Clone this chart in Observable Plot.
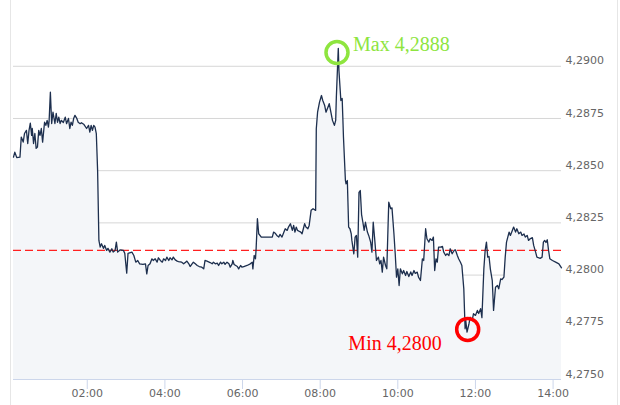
<!DOCTYPE html>
<html>
<head>
<meta charset="utf-8">
<script src="https://cdn.jsdelivr.net/npm/d3@7"></script>
<script src="https://cdn.jsdelivr.net/npm/@observablehq/plot@0.6"></script>
<style>
  html, body { margin: 0; padding: 0; background: #fff; }
  #wrap { position: relative; width: 620px; height: 405px; overflow: hidden; }
  .border { position: absolute; top: 0; width: 1px; height: 405px; background: #e6e6e6; }
  svg { display: block; }
</style>
</head>
<body>
<div id="wrap">
  <div class="border" style="left:10px"></div>
  <div class="border" style="left:617px"></div>
</div>
<script>
// Time of each quote, in minutes after midnight
const minutes = [
  6,8,11,16,18,21,23,26,28,30,
  32,34,35,37,39,41,43,45,47,49,
  51,54,56,58,60,61,63,65,67,70,
  72,74,76,78,80,83,86,88,91,93,
  95,97,99,101,104,106,109,111,115,119,
  122,124,126,128,130,132,134,136,138,140,
  142,145,147,150,152,155,158,160,163,165,
  167,171,176,178,181,183,189,192,195,198,
  201,206,210,212,214,217,220,222,225,228,
  230,233,236,238,241,243,246,248,251,253,
  256,259,261,266,269,272,274,277,279,282,
  284,287,290,293,297,300,302,305,310,313,
  315,318,321,323,326,328,331,333,336,339,
  341,344,345,347,352,354,357,359,362,367,
  372,375,376,378,380,381,383,385,389,398,
  406,408,411,413,416,418,421,424,426,429,
  431,434,437,439,441,443,445,448,450,452,
  456,458,461,463,466,469,473,474,476,479,
  482,484,487,489,492,494,497,499,502,504,
  505,508,509,511,512,514,515,516,519,520,
  522,524,526,528,529,532,534,536,538,540,
  542,544,546,548,550,553,555,558,560,562,
  564,567,570,572,574,576,578,581,583,586,
  589,591,594,596,598,600,602,604,607,609,
  612,614,617,620,622,625,627,630,632,635,
  638,640,643,645,648,650,653,655,657,659,
  661,663,666,669,671,674,676,679,681,684,
  687,689,692,694,697,699,702,704,705,707,
  710,712,715,717,720,723,725,728,730,733,
  735,737,739,741,743,746,748,751,754,756,
  759,761,764,766,768,770,772,774,777,779,
  782,784,787,790,792,795,797,800,802,805,
  808,810,813,815,818,820,823,825,827,829,
  831,833,835,839,844,849,853
];

// Exchange rate at each time
const rates = [
  4.28565,4.28589,4.28563,4.28565,4.28661,4.28637,4.28678,4.28693,4.28630,4.28693,
  4.28728,4.28669,4.28702,4.28630,4.28678,4.28607,4.28613,4.28693,4.28669,4.28702,
  4.28637,4.28732,4.28717,4.28741,4.28709,4.28736,4.28876,4.28726,4.28780,4.28726,
  4.28774,4.28732,4.28756,4.28726,4.28741,4.28731,4.28756,4.28725,4.28750,4.28702,
  4.28732,4.28717,4.28750,4.28765,4.28749,4.28732,4.28725,4.28730,4.28721,4.28702,
  4.28717,4.28685,4.28717,4.28693,4.28717,4.28709,4.28678,4.28501,4.28166,4.28134,
  4.28150,4.28128,4.28142,4.28118,4.28128,4.28110,4.28126,4.28110,4.28118,4.28158,
  4.28110,4.28121,4.28118,4.28104,4.28009,4.28104,4.28110,4.28094,4.28062,4.28070,
  4.28054,4.28051,4.28054,4.28006,4.28046,4.28054,4.28078,4.28070,4.28078,4.28062,
  4.28083,4.28070,4.28062,4.28078,4.28070,4.28086,4.28070,4.28083,4.28073,4.28086,
  4.28073,4.28067,4.28065,4.28062,4.28054,4.28062,4.28067,4.28054,4.28041,4.28054,
  4.28062,4.28054,4.28046,4.28041,4.28038,4.28030,4.28070,4.28067,4.28060,4.28054,
  4.28062,4.28054,4.28057,4.28046,4.28062,4.28054,4.28062,4.28051,4.28062,4.28054,
  4.28038,4.28054,4.28070,4.28051,4.28041,4.28030,4.28046,4.28038,4.28041,4.28046,
  4.28054,4.28062,4.28030,4.28094,4.28078,4.28126,4.28270,4.28198,4.28182,4.28182,
  4.28182,4.28206,4.28199,4.28190,4.28182,4.28195,4.28182,4.28206,4.28222,4.28214,
  4.28230,4.28246,4.28214,4.28238,4.28206,4.28230,4.28214,4.28209,4.28206,4.28198,
  4.28246,4.28230,4.28222,4.28238,4.28310,4.28318,4.28310,4.28701,4.28780,4.28828,
  4.28860,4.28836,4.28812,4.28780,4.28804,4.28821,4.28773,4.28741,4.28717,4.28741,
  4.28852,4.29086,4.28980,4.28884,4.28836,4.28846,4.28756,4.28661,4.28453,4.28437,
  4.28453,4.28230,4.28222,4.28198,4.28166,4.28102,4.28182,4.28190,4.28086,4.28396,
  4.28405,4.28290,4.28253,4.28214,4.28253,4.28206,4.28190,4.28158,4.28110,4.28253,
  4.28182,4.28070,4.28086,4.28054,4.28070,4.28014,4.28086,4.28046,4.28030,4.28349,
  4.28318,4.28322,4.28198,4.28102,4.27990,4.28030,4.27950,4.28030,4.28006,4.28022,
  4.27998,4.28017,4.27993,4.28015,4.27998,4.28022,4.28008,4.28014,4.27990,4.27974,
  4.28078,4.28070,4.28222,4.28174,4.28158,4.28174,4.28166,4.28182,4.28022,4.28078,
  4.28062,4.28134,4.28134,4.28137,4.28110,4.28094,4.28102,4.28094,4.28126,4.28102,
  4.28118,4.28121,4.28094,4.28078,4.28060,4.28046,4.27934,4.27743,4.27783,4.27727,
  4.27767,4.27798,4.27783,4.27815,4.27807,4.27831,4.27816,4.27839,4.27796,4.28030,
  4.28118,4.28158,4.28086,4.28089,4.28030,4.27974,4.27831,4.27942,4.27950,4.27934,
  4.27982,4.27979,4.27990,4.28086,4.28158,4.28182,4.28206,4.28190,4.28214,4.28230,
  4.28206,4.28222,4.28198,4.28206,4.28190,4.28197,4.28182,4.28190,4.28166,4.28175,
  4.28179,4.28142,4.28110,4.28086,4.28083,4.28080,4.28086,4.28158,4.28166,4.28156,
  4.28169,4.28118,4.28078,4.28070,4.28062,4.28054,4.28035
];

// Axis ticks
const yTicks = [4.2750, 4.2775, 4.2800, 4.2825, 4.2850, 4.2875, 4.2900];
const xTickHours = [2, 4, 6, 8, 10, 12, 14];

// Reference level (dashed red line)
const referenceRate = [4.28118];

// Annotations
const annoLabels = ["Max 4,2888", "Min 4,2800"];
const annoMinutes = [506, 708];
const annoRates = [4.29066, 4.27740];
const annoColors = ["#8ee53f", "#ff0000"];

const toDate = m => new Date(Date.UTC(2020, 0, 1, 0, m));
const data = minutes.map((m, i) => ({date: toDate(m), rate: rates[i]}));
const annos = annoLabels.map((l, i) => ({label: l, date: toDate(annoMinutes[i]), rate: annoRates[i], color: annoColors[i]}));
const yMin = 4.2750, yMax = 4.29315;
const fmt = d => d.toFixed(4).replace(".", ",");

const chart = Plot.plot({
  width: 620,
  height: 405,
  marginTop: 0,
  marginBottom: 26,
  marginLeft: 13,
  marginRight: 59,
  style: {fontFamily: "'DejaVu Sans', sans-serif", fontSize: "11px", background: "transparent", overflow: "visible"},
  x: {type: "utc", domain: [data[0].date, data[data.length - 1].date]},
  y: {domain: [yMin, yMax]},
  marks: [
    Plot.gridY(yTicks, {stroke: "#d6d6d6", strokeOpacity: 1}),
    Plot.areaY(data, {x: "date", y1: yMin, y2: "rate", fill: "#f4f6f9"}),
    Plot.ruleY(referenceRate, {stroke: "#ff2020", strokeWidth: 1.2, strokeDasharray: "8,4"}),
    Plot.lineY(data, {x: "date", y: "rate", stroke: "#1d2f4e", strokeWidth: 1.3}),
    Plot.ruleY([yMin], {stroke: "#ccd6eb"}),
    Plot.axisY(yTicks, {anchor: "right", tickSize: 0, tickPadding: 4, dy: -5.5, tickFormat: fmt, fill: "#666", fontSize: 11, label: null}),
    Plot.axisX(xTickHours.map(h => toDate(h * 60)), {anchor: "bottom", tickSize: 10, tickPadding: 0, stroke: "#ccd6eb", fill: "#666", tickFormat: d3.utcFormat("%H:%M"), fontSize: 11, label: null}),
    Plot.dot(annos, {x: "date", y: "rate", r: 11, stroke: "color", strokeWidth: 3.5, fill: "none"}),
    Plot.text(annos.slice(0, 1), {x: "date", y: "rate", text: "label", fill: "color", textAnchor: "start", dx: 16, dy: -8, fontSize: 20, fontFamily: "'Liberation Serif', 'Times New Roman', serif"}),
    Plot.text(annos.slice(1), {x: "date", y: "rate", text: "label", fill: "color", textAnchor: "end", dx: -26, dy: 14, fontSize: 20, fontFamily: "'Liberation Serif', 'Times New Roman', serif"})
  ]
});
document.getElementById("wrap").appendChild(chart);
if (minutes.length !== rates.length) console.error("length mismatch", minutes.length, rates.length);
</script>
</body>
</html>
